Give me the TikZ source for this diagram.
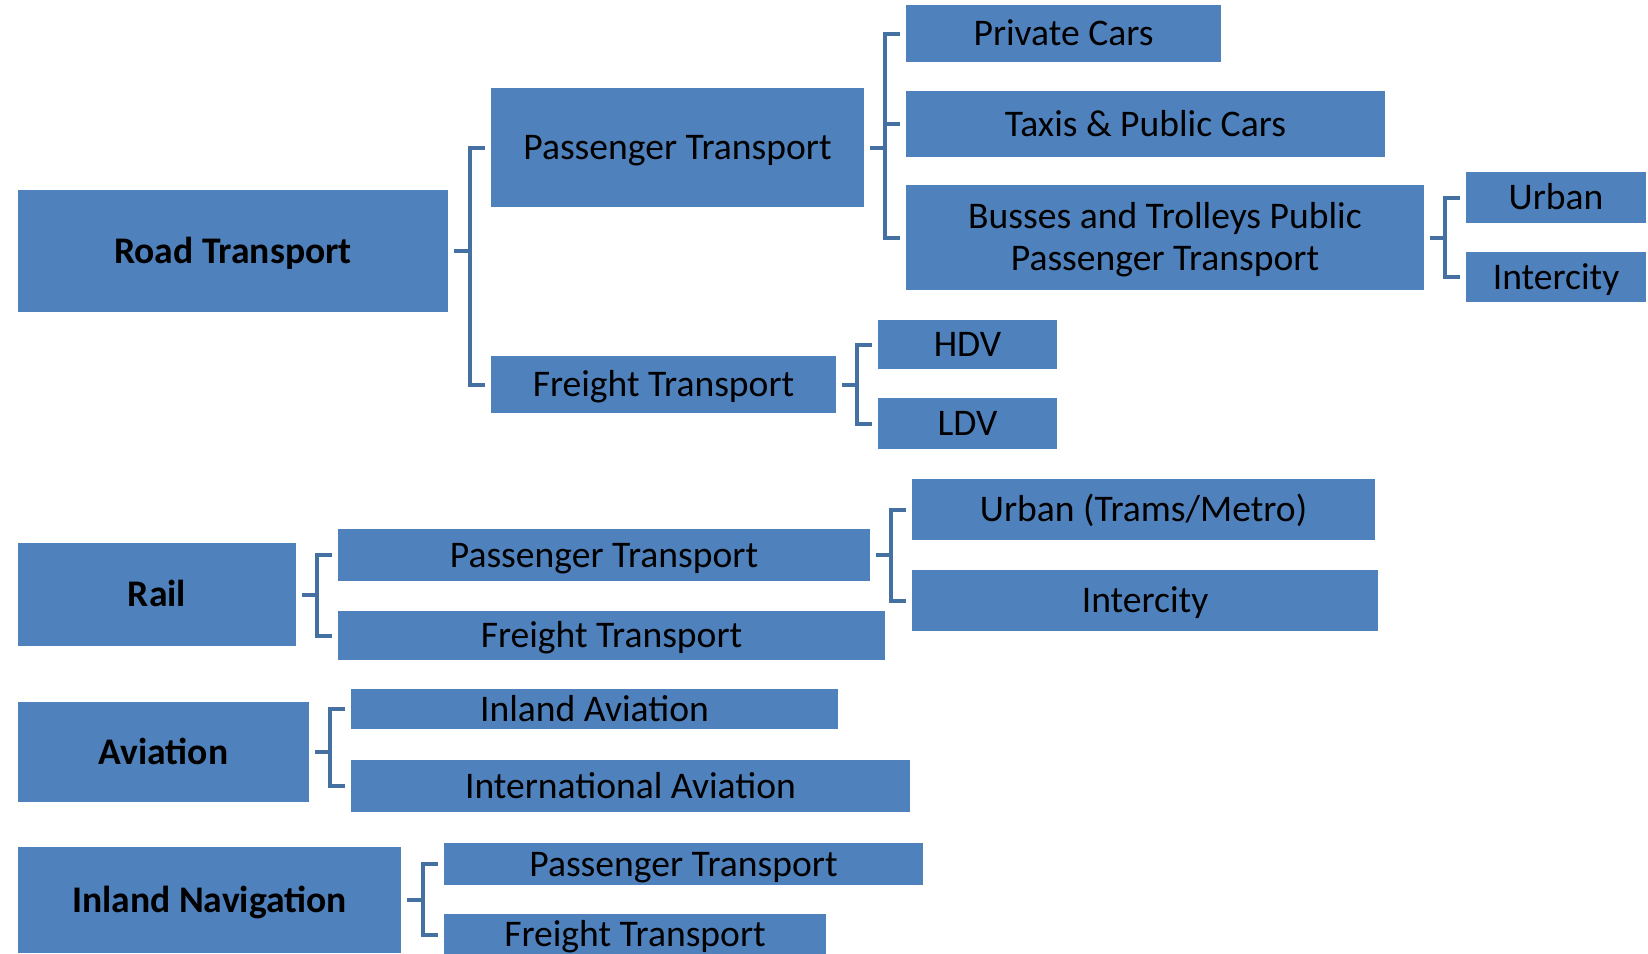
\documentclass[tikz,border=0pt]{standalone}
\usepackage{fontspec}
\setmainfont{Carlito}
\usetikzlibrary{calc}
\definecolor{boxblue}{RGB}{79,129,189}
\definecolor{linkblue}{RGB}{68,112,162}
\tikzset{
  box/.style={fill=boxblue, draw=none, inner sep=0pt, align=center,
    text=black, font=\fontsize{18.8}{21}\selectfont,
    text height=12.1pt, text depth=0pt},
  head/.style={box, font=\fontsize{18.8}{21}\selectfont\bfseries},
  twoline/.style={text height=33.1pt, text depth=0pt},
  conn/.style={draw=linkblue, line width=2pt, line cap=butt, line join=miter}
}
% bracket connector: parent, first child, last child, optional middle child
\newcommand\brk[4]{%
  \path (#2.west) ++(-21,0) coordinate (bk);
  \draw[conn] ($(#1.east)+(6,0)$) -- (bk |- #1.east);
  \draw[conn] ($(#2.west)+(-6,0)$) -- (bk) -- (bk |- #3.west) -- ($(#3.west)+(-6,0)$);
  \ifx\relax#4\relax\else
    \draw[conn] (bk |- #4.west) -- ($(#4.west)+(-6,0)$);
  \fi
}
\begin{document}
\begin{tikzpicture}[x=0.5pt,y=-0.5pt]
\useasboundingbox (0,0) rectangle (1648,953);
\fill[white] (0,0) rectangle (1648,953);

% road transport
\node[head, minimum width=215pt, minimum height=61pt] (road) at (233,251) {Road Transport};
\node[box, minimum width=186.5pt, minimum height=59.5pt] (rpass) at (677.5,147.5) {Passenger Transport};
\node[box, minimum width=172.5pt, minimum height=28.5pt] (rfreight) at (663.5,384.5) {Freight Transport};
\node[box, minimum width=157.5pt, minimum height=28.5pt] (private) at (1063.5,33.5) {Private Cars};
\node[box, minimum width=239.5pt, minimum height=33pt] (taxis) at (1145.5,124) {Taxis \& Public Cars};
\node[box, twoline, minimum width=259pt, minimum height=52.5pt] (busses) at (1165,237.5) {Busses and Trolleys Public\\Passenger Transport};
\node[box, minimum width=90pt, minimum height=25.5pt] (urban) at (1556,197.5) {Urban};
\node[box, minimum width=90pt, minimum height=25pt] (inter) at (1556,277) {Intercity};
\node[box, minimum width=89.5pt, minimum height=24.5pt] (hdv) at (967.5,344.5) {HDV};
\node[box, minimum width=89.5pt, minimum height=25.5pt] (ldv) at (967.5,423.5) {LDV};

% rail
\node[head, minimum width=139pt, minimum height=51.5pt] (rail) at (157,594.5) {Rail};
\node[box, minimum width=266pt, minimum height=26pt] (railpass) at (604,555) {Passenger Transport};
\node[box, minimum width=273.5pt, minimum height=24.5pt] (railfreight) at (611.5,635.5) {Freight Transport};
\node[box, minimum width=231.5pt, minimum height=30.5pt] (railurban) at (1143.5,509.5) {Urban (Trams/Metro)};
\node[box, minimum width=233pt, minimum height=30.5pt] (railinter) at (1145,600.5) {Intercity};

% aviation
\node[head, minimum width=145.5pt, minimum height=50pt] (avia) at (163.5,752) {Aviation};
\node[box, minimum width=243.5pt, minimum height=20pt] (inlandav) at (594.5,709) {Inland Aviation};
\node[box, minimum width=279.5pt, minimum height=26pt] (intlav) at (630.5,786) {International Aviation};

% inland navigation
\node[head, minimum width=191.5pt, minimum height=53pt] (nav) at (209.5,900) {Inland Navigation};
\node[box, minimum width=239.5pt, minimum height=21pt] (navpass) at (683.5,864) {Passenger Transport};
\node[box, minimum width=191pt, minimum height=20.5pt] (navfreight) at (635,934.5) {Freight Transport};

% connectors
\brk{road}{rpass}{rfreight}{}
\brk{rpass}{private}{busses}{taxis}
\brk{busses}{urban}{inter}{}
\brk{rfreight}{hdv}{ldv}{}
\brk{rail}{railpass}{railfreight}{}
\brk{railpass}{railurban}{railinter}{}
\brk{avia}{inlandav}{intlav}{}
\brk{nav}{navpass}{navfreight}{}
\end{tikzpicture}
\end{document}
